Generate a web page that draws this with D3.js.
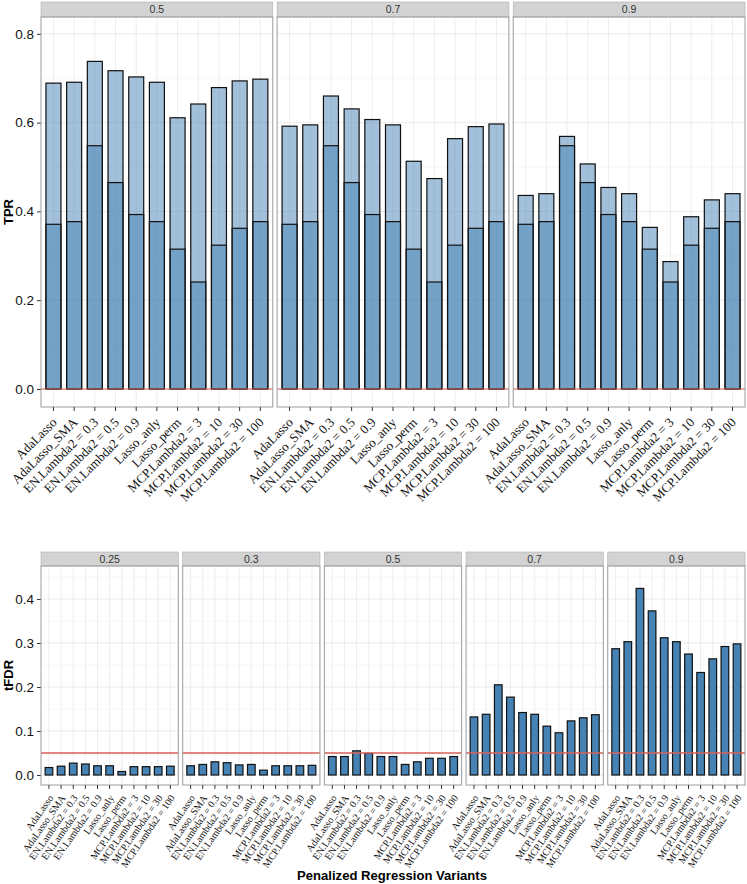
<!DOCTYPE html>
<html><head><meta charset="utf-8">
<script src="https://cdn.jsdelivr.net/npm/d3@7"></script>
<style>body{margin:0;background:#fff}svg{display:block}</style>
</head><body>
<svg id="chart" width="747" height="884"></svg>
<script>
// ---------- DATA ----------
const categories = ["AdaLasso","AdaLasso_SMA","EN.Lambda2 = 0.3","EN.Lambda2 = 0.5","EN.Lambda2 = 0.9","Lasso_anly","Lasso_perm","MCP.Lambda2 = 3","MCP.Lambda2 = 10","MCP.Lambda2 = 30","MCP.Lambda2 = 100"];
const tprPanels = ["0.5","0.7","0.9"];
const tprBase = [0.371,0.377,0.548,0.465,0.393,0.377,0.315,0.241,0.324,0.362,0.377];
const tpr05 = [0.689,0.691,0.738,0.717,0.703,0.691,0.611,0.642,0.679,0.694,0.698];
const tpr07 = [0.592,0.595,0.660,0.631,0.607,0.595,0.513,0.474,0.564,0.591,0.597];
const tpr09 = [0.436,0.440,0.569,0.507,0.454,0.440,0.364,0.287,0.388,0.426,0.440];
const tprTicks = [0,0.2,0.4,0.6,0.8];
const tprLine = 0;

const fdrPanels = ["0.25","0.3","0.5","0.7","0.9"];
const fdr025 = [0.017,0.020,0.027,0.025,0.021,0.021,0.008,0.019,0.019,0.019,0.020];
const fdr03  = [0.021,0.024,0.030,0.028,0.023,0.024,0.011,0.021,0.021,0.021,0.022];
const fdr05  = [0.042,0.042,0.055,0.049,0.042,0.042,0.024,0.030,0.038,0.038,0.042];
const fdr07  = [0.132,0.138,0.205,0.177,0.142,0.138,0.111,0.096,0.123,0.130,0.137];
const fdr09  = [0.287,0.303,0.424,0.373,0.312,0.303,0.275,0.233,0.264,0.292,0.298];
const fdrTicks = [0,0.1,0.2,0.3,0.4];
const fdrLine = 0.05;

const tprSeries = [tpr05, tpr07, tpr09];
const fdrSeries = [fdr025, fdr03, fdr05, fdr07, fdr09];

// ---------- DRAW ----------
const svg = d3.select("#chart");
const SANS = "'Liberation Sans', Arial, sans-serif";
const SERIF = "'Liberation Serif', 'Times New Roman', serif";
const BAR = "#4682b4";

function facetChart(o) {
  const g = svg.append("g");
  const n = o.panels.length;
  const pw = (o.right - o.left - o.gap * (n - 1)) / n;
  const y = d3.scaleLinear().domain(o.domain).range([o.bottom, o.top]);
  const x = d3.scaleBand().domain(categories).range([0, pw])
    .paddingInner(o.padIn).paddingOuter(o.padOut);

  // y axis
  const ya = g.append("g").attr("transform", `translate(${o.left},0)`)
    .call(d3.axisLeft(y).tickValues(o.ticks).tickSize(4).tickPadding(3).tickFormat(d3.format(".1f")));
  ya.select(".domain").remove();
  ya.selectAll(".tick line").attr("stroke", "#333");
  ya.selectAll(".tick text").attr("font-family", SANS).attr("font-size", 13.5).attr("fill", "#111");

  g.append("text")
    .attr("transform", `translate(${o.titleX},${(o.top + o.bottom) / 2}) rotate(-90)`)
    .attr("text-anchor", "middle").attr("dy", "0.35em")
    .attr("font-family", SANS).attr("font-weight", "bold").attr("font-size", 13)
    .text(o.title);

  const minor = d3.range(o.ticks.length).map(i => o.ticks[0] + (i + 0.5) * (o.ticks[1] - o.ticks[0]))
    .filter(v => y(v) > o.top);

  o.panels.forEach((p, pi) => {
    const px = o.left + pi * (pw + o.gap);
    const pg = g.append("g").attr("transform", `translate(${px},0)`);
    // strip
    pg.append("rect").attr("x", 0).attr("y", o.stripTop).attr("width", pw).attr("height", o.top - o.stripTop)
      .attr("fill", "#d3d3d3").attr("stroke", "#b0b0b0").attr("stroke-width", 0.6);
    pg.append("text").attr("x", pw / 2).attr("y", (o.stripTop + o.top) / 2).attr("dy", "0.36em")
      .attr("text-anchor", "middle").attr("font-family", SANS).attr("font-size", 10.5).attr("fill", "#333")
      .text(p);
    // background grid
    pg.selectAll(".gmin").data(minor).join("line")
      .attr("x1", 0).attr("x2", pw).attr("y1", d => y(d)).attr("y2", d => y(d))
      .attr("stroke", "#f3f3f3").attr("stroke-width", 0.6);
    pg.selectAll(".gmaj").data(o.ticks).join("line")
      .attr("x1", 0).attr("x2", pw).attr("y1", d => y(d)).attr("y2", d => y(d))
      .attr("stroke", "#e6e6e6").attr("stroke-width", 0.8);
    pg.selectAll(".gv").data(categories).join("line")
      .attr("x1", d => x(d) + x.bandwidth() / 2).attr("x2", d => x(d) + x.bandwidth() / 2)
      .attr("y1", o.top).attr("y2", o.bottom)
      .attr("stroke", "#e9e9e9").attr("stroke-width", 0.8);
    // bars
    o.drawBars(pg, x, y, pi);
    // reference line
    pg.append("line").attr("x1", 0).attr("x2", pw).attr("y1", y(o.refLine)).attr("y2", y(o.refLine))
      .attr("stroke", "#d9605a").attr("stroke-width", o.refWidth);
    // panel border
    pg.append("rect").attr("x", 0).attr("y", o.top).attr("width", pw).attr("height", o.bottom - o.top)
      .attr("fill", "none").attr("stroke", "#9c9c9c").attr("stroke-width", 1);
    // x axis
    const xa = pg.append("g").attr("transform", `translate(0,${o.bottom})`)
      .call(d3.axisBottom(x).tickSize(4).tickFormat(""));
    xa.select(".domain").remove();
    xa.selectAll(".tick line").attr("stroke", "#333");
    pg.selectAll(".xl").data(categories).join("text")
      .attr("transform", d => `translate(${x(d) + x.bandwidth() / 2 + o.lblDx},${o.bottom + o.lblDy}) rotate(${o.lblAngle})`)
      .attr("text-anchor", "end").attr("dy", "0.35em")
      .attr("font-family", SERIF).attr("font-size", o.lblSize).attr("fill", "#111")
      .text(d => d);
  });
}

// TPR chart
facetChart({
  panels: tprPanels, left: 41, right: 745, gap: 4.3,
  stripTop: 2, top: 17, bottom: 407, domain: [-0.0406, 0.838], ticks: tprTicks,
  padIn: 0.275, padOut: 0.24, title: "TPR", titleX: 8,
  refLine: tprLine, refWidth: 1,
  lblDx: 1, lblDy: 13, lblAngle: -45, lblSize: 13,
  drawBars: (pg, x, y, pi) => {
    const vals = tprSeries[pi];
    pg.selectAll(".bt").data(categories).join("rect")
      .attr("x", d => x(d)).attr("width", x.bandwidth())
      .attr("y", (d, i) => y(vals[i])).attr("height", (d, i) => y(0) - y(vals[i]))
      .attr("fill", BAR).attr("fill-opacity", 0.5).attr("stroke", "#111").attr("stroke-width", 1.2);
    pg.selectAll(".bb").data(categories).join("rect")
      .attr("x", d => x(d)).attr("width", x.bandwidth())
      .attr("y", (d, i) => y(tprBase[i])).attr("height", (d, i) => y(0) - y(tprBase[i]))
      .attr("fill", BAR).attr("fill-opacity", 0.5).attr("stroke", "#111").attr("stroke-width", 1.2);
  }
});

// tFDR chart
facetChart({
  panels: fdrPanels, left: 41, right: 745, gap: 4.4,
  stripTop: 552, top: 566, bottom: 785, domain: [-0.0227, 0.475], ticks: fdrTicks,
  padIn: 0.37, padOut: 0.34, title: "tFDR", titleX: 8,
  refLine: fdrLine, refWidth: 1.6,
  lblDx: 2, lblDy: 11, lblAngle: -55, lblSize: 10,
  drawBars: (pg, x, y, pi) => {
    const vals = fdrSeries[pi];
    pg.selectAll(".bf").data(categories).join("rect")
      .attr("x", d => x(d)).attr("width", x.bandwidth())
      .attr("y", (d, i) => y(vals[i])).attr("height", (d, i) => y(0) - y(vals[i]))
      .attr("fill", BAR).attr("stroke", "#111").attr("stroke-width", 1.2);
  }
});

svg.append("text").attr("x", 392).attr("y", 880).attr("text-anchor", "middle")
  .attr("font-family", SANS).attr("font-weight", "bold").attr("font-size", 13.5)
  .attr("textLength", 190).attr("lengthAdjust", "spacingAndGlyphs")
  .text("Penalized Regression Variants");
</script>
</body></html>
